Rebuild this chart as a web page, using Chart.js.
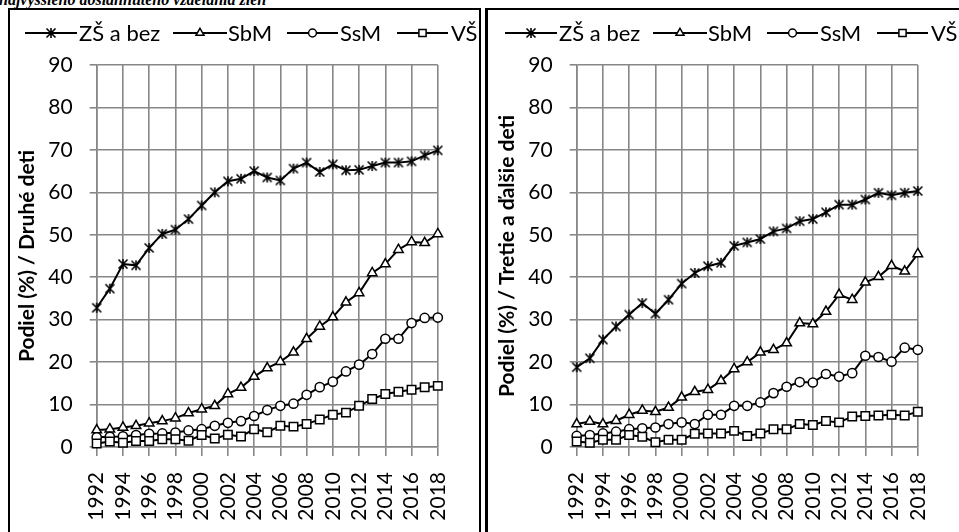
<!DOCTYPE html>
<html><head><meta charset="utf-8">
<script src="https://cdn.jsdelivr.net/npm/chart.js@4/dist/chart.umd.min.js"></script>
<style>
html,body{margin:0;padding:0;background:#fff;width:959px;height:532px;overflow:hidden;position:relative;font-family:Lato}
.panel{position:absolute;top:8px;height:560px;border:2px solid #000;box-sizing:border-box;background:#fff}
#p1{left:8px;width:473px}
#p2{left:485px;width:490px;border-left-width:3px}
canvas{position:absolute;top:10px}
#c1{left:10px}
#c2{left:490px}
#title{position:absolute;left:-1px;top:-10px;font:italic bold 16px "Liberation Serif";line-height:19px;white-space:nowrap;color:#000}
</style></head>
<body>
<div id="title">najvyššieho dosiahnutého vzdelania žien</div>
<div class="panel" id="p1"></div>
<div class="panel" id="p2"></div>
<canvas id="c1" width="469" height="522"></canvas>
<canvas id="c2" width="469" height="522"></canvas>
<script>
const years = [1992,1993,1994,1995,1996,1997,1998,1999,2000,2001,2002,2003,2004,2005,2006,2007,2008,2009,2010,2011,2012,2013,2014,2015,2016,2017,2018];
const seriesNames = ['ZŠ a bez','SbM','SsM','VŠ'];
const axisTitles = ['Podiel (%) / Druhé deti','Podiel (%) / Tretie a ďalšie deti'];
const yMin = 0, yMax = 90, yStep = 10;
const xMin = 1992, xMax = 2018, xStep = 2;

// Druhé deti
const zsBez2 = [32.8,37.3,43.1,42.8,46.9,50.2,51.2,53.7,56.9,60.0,62.6,63.2,65.0,63.5,62.8,65.6,67.0,64.8,66.6,65.2,65.3,66.2,67.0,67.0,67.3,68.7,69.9];
const sbm2   = [4.0,4.2,4.6,5.0,5.6,6.1,6.8,8.0,8.9,9.7,12.5,14.0,16.6,18.6,20.1,22.3,25.5,28.4,30.6,34.1,36.3,41.0,43.1,46.5,48.3,48.1,50.2];
const ssm2   = [2.3,2.4,2.5,2.8,3.1,3.2,3.4,3.9,4.2,5.0,5.7,6.1,7.3,8.7,9.7,10.2,12.3,14.1,15.4,17.8,19.4,21.9,25.5,25.5,29.2,30.4,30.5];
const vs2    = [0.8,1.3,1.0,1.4,1.4,1.8,1.8,1.5,2.8,2.0,2.9,2.5,4.2,3.5,5.0,4.8,5.4,6.5,7.6,8.1,9.7,11.3,12.5,13.0,13.5,14.1,14.4];

// Tretie a ďalšie deti
const zsBez3 = [18.8,20.9,25.3,28.4,31.2,33.9,31.4,34.7,38.5,41.0,42.6,43.4,47.4,48.2,49.0,50.8,51.5,53.2,53.7,55.3,57.1,57.1,58.3,59.9,59.3,59.9,60.3];
const sbm3   = [5.4,6.0,5.4,6.2,7.6,8.6,8.3,9.3,11.7,13.0,13.5,15.6,18.4,20.0,22.3,22.9,24.5,29.2,29.0,31.9,35.9,34.7,38.8,40.1,42.7,41.4,45.5];
const ssm3   = [2.6,2.8,3.2,3.6,4.2,4.4,4.6,5.4,5.8,5.4,7.6,7.6,9.7,9.7,10.5,12.7,14.2,15.3,15.2,17.2,16.6,17.4,21.5,21.2,20.1,23.4,22.9];
const vs3    = [1.3,1.0,1.7,1.7,2.8,2.4,1.1,1.7,1.7,3.1,3.2,3.2,3.8,2.6,3.2,4.2,4.2,5.4,5.2,6.1,5.8,7.2,7.3,7.4,7.6,7.4,8.3];

function starImg(){
  const c=document.createElement('canvas');c.width=12;c.height=12;
  const g=c.getContext('2d');g.strokeStyle='#000';g.lineWidth=1.6;g.lineCap='butt';
  g.beginPath();g.moveTo(1.5,1.5);g.lineTo(10.5,10.5);g.moveTo(10.5,1.5);g.lineTo(1.5,10.5);
  g.moveTo(6,1);g.lineTo(6,11);g.stroke();return c;
}
const STAR = starImg();
const styles = [
  {pointStyle:STAR, pointRadius:6},
  {pointStyle:'triangle', pointRadius:5.5},
  {pointStyle:'circle', pointRadius:4.6},
  {pointStyle:'rect', pointRadius:6}
];

const legendPlugin = {
  id:'lineLegend',
  afterDraw(chart){
    const ctx=chart.ctx, Y=23;
    const items=[{x1:15,x2:67,tx:69},{x1:163,x2:217,tx:218},{x1:277,x2:328,tx:330},{x1:387,x2:438,tx:441}];
    ctx.save();
    chart.data.datasets.forEach((ds,i)=>{
      const it=items[i];
      ctx.strokeStyle='#000';ctx.lineWidth=2;
      ctx.beginPath();ctx.moveTo(it.x1,Y);ctx.lineTo(it.x2,Y);ctx.stroke();
      ctx.fillStyle='#fff';ctx.strokeStyle='#000';ctx.lineWidth=1.5;
      Chart.helpers.drawPoint(ctx,{pointStyle:ds.pointStyle,radius:ds.pointRadius*0.85,borderWidth:1.5,rotation:0},(it.x1+it.x2)/2,Y);
      ctx.fillStyle='#000';ctx.font='22px Lato';ctx.textBaseline='middle';ctx.textAlign='left';
      ctx.fillText(ds.label,it.tx,Y+1);
    });
    ctx.restore();
  }
};

function makeChart(id, seriesList, title){
  const datasets = seriesList.map((vals,i)=>({
    label: seriesNames[i],
    data: years.map((y,k)=>({x:y,y:vals[k]})),
    borderColor:'#000', borderWidth:2,
    backgroundColor:'#fff',
    pointBackgroundColor:'#fff', pointBorderColor:'#000', pointBorderWidth:1.5,
    pointStyle: styles[i].pointStyle, pointRadius: styles[i].pointRadius,
    tension:0, order: 4-i, clip:false
  }));
  const gridColor='#878787';
  return new Chart(document.getElementById(id),{
    type:'line',
    data:{datasets},
    plugins:[legendPlugin],
    options:{
      responsive:false, animation:false, devicePixelRatio:1,
      layout:{padding:{top:55,right:14.4,left:0,bottom:0}},
      plugins:{legend:{display:false},tooltip:{enabled:false}},
      scales:{
        x:{type:'linear',min:xMin,max:xMax,
           afterFit(s){s.height=85;},
           grid:{color:gridColor,lineWidth:1.6,tickLength:9,tickColor:gridColor},
           border:{color:gridColor,width:1.6},
           ticks:{stepSize:xStep,autoSkip:false,maxRotation:90,minRotation:90,padding:16,color:'#000',
                  font:{family:'Lato',size:21},callback:v=>String(v)}},
        y:{min:yMin,max:yMax,
           afterFit(s){s.width=86.7;},
           grid:{color:gridColor,lineWidth:1.6,tickLength:7,tickColor:gridColor},
           border:{color:gridColor,width:1.6},
           ticks:{stepSize:yStep,padding:17,color:'#000',font:{family:'Lato',size:21}},
           title:{display:true,text:title,color:'#000',font:{family:'Lato',size:21,weight:'bold'},padding:{top:5,bottom:0}}}
      }
    }
  });
}
makeChart('c1',[zsBez2,sbm2,ssm2,vs2],axisTitles[0]);
makeChart('c2',[zsBez3,sbm3,ssm3,vs3],axisTitles[1]);
</script>
</body></html>
